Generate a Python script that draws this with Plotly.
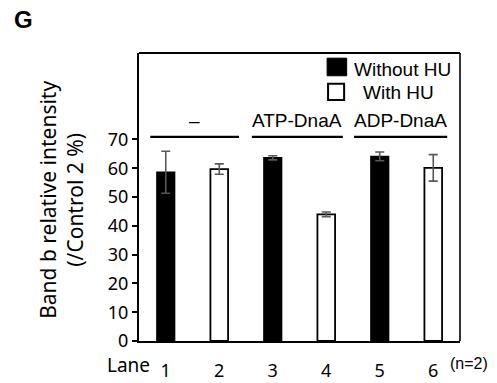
import plotly.graph_objects as go

# Band b relative intensity (% of Control 2), mean with error, n=2
lanes = ["1", "2", "3", "4", "5", "6"]
without_hu_lanes = ["1", "3", "5"]
without_hu_values = [58.6, 63.6, 64.1]
without_hu_errors = [7.3, 0.7, 1.5]
with_hu_lanes = ["2", "4", "6"]
with_hu_values = [59.7, 44.0, 60.1]
with_hu_errors = [1.8, 0.8, 4.6]

group_labels = ["\u2013", "ATP-DnaA", "ADP-DnaA"]
y_ticks = [0, 10, 20, 30, 40, 50, 60, 70]

tick_font = dict(family="Noto Sans", size=18, color="#000000")
arial = "Liberation Sans, Arial, sans-serif"
err_style = dict(type="data", color="#595959", thickness=1.6, width=4.5)

fig = go.Figure()
fig.add_trace(go.Bar(
    x=without_hu_lanes, y=without_hu_values, name="Without HU",
    marker=dict(color="#000000", line=dict(color="#000000", width=1.5)),
    width=0.33,
    error_y=dict(array=without_hu_errors, **err_style),
))
fig.add_trace(go.Bar(
    x=with_hu_lanes, y=with_hu_values, name="With HU",
    marker=dict(color="#ffffff", line=dict(color="#000000", width=1.8)),
    width=0.33,
    error_y=dict(array=with_hu_errors, **err_style),
))

# group brackets (lines) and their labels above the bars
group_spans = [(-0.29, 1.37), (1.61, 3.31), (3.52, 5.26)]
shapes = []
annotations = []
for label, (x0, x1) in zip(group_labels, group_spans):
    shapes.append(dict(type="line", xref="x", yref="y", x0=x0, x1=x1, y0=70.9, y1=70.9,
                       line=dict(color="#000000", width=2.2)))
    annotations.append(dict(xref="x", yref="y", x=(x0 + x1) / 2, y=76.6, text=label,
                            showarrow=False, font=dict(family=arial, size=19, color="#000000"),
                            xanchor="center", yanchor="middle"))

# frame: top and right edges
shapes.append(dict(type="line", xref="paper", yref="paper", x0=0, x1=1, y0=1, y1=1,
                   line=dict(color="#000000", width=2)))
shapes.append(dict(type="line", xref="paper", yref="paper", x0=1, x1=1, y0=0, y1=1,
                   line=dict(color="#000000", width=1.6)))

# legend keys
shapes.append(dict(type="rect", xref="paper", yref="paper", x0=0.586, x1=0.647, y0=0.921, y1=0.982,
                   fillcolor="#000000", line=dict(color="#000000", width=1)))
shapes.append(dict(type="rect", xref="paper", yref="paper", x0=0.589, x1=0.639, y0=0.837, y1=0.893,
                   fillcolor="#ffffff", line=dict(color="#000000", width=2)))
annotations.append(dict(xref="paper", yref="paper", x=0.664, y=0.943, text="Without HU",
                        showarrow=False, xanchor="left", yanchor="middle",
                        font=dict(family=arial, size=19, color="#000000")))
annotations.append(dict(xref="paper", yref="paper", x=0.692, y=0.863, text="With HU",
                        showarrow=False, xanchor="left", yanchor="middle",
                        font=dict(family=arial, size=19, color="#000000")))

# axis captions
annotations.append(dict(xref="paper", yref="paper", x=0.041, y=-0.082, text="Lane",
                        showarrow=False, xanchor="right", yanchor="middle",
                        font=dict(family="Noto Sans", size=19, color="#000000")))
annotations.append(dict(xref="paper", yref="paper", x=0.962, y=-0.077, text="(n=2)",
                        showarrow=False, xanchor="left", yanchor="middle",
                        font=dict(family=arial, size=16, color="#000000")))
annotations.append(dict(xref="paper", yref="paper", x=-0.24, y=0.49,
                        text="Band b relative intensity<br>(/Control 2 %)",
                        showarrow=False, textangle=-90, xanchor="center", yanchor="middle",
                        align="center", font=dict(family="Noto Sans", size=21, color="#000000")))
annotations.append(dict(xref="paper", yref="paper", x=-0.395, y=1.115, text="<b>G</b>",
                        showarrow=False, xanchor="left", yanchor="middle",
                        font=dict(family=arial, size=24, color="#000000")))

fig.update_layout(
    width=497, height=383,
    margin=dict(l=139, r=37, t=53, b=42),
    paper_bgcolor="#ffffff", plot_bgcolor="#ffffff",
    barmode="overlay", showlegend=False,
    shapes=shapes, annotations=annotations,
    xaxis=dict(type="category", categoryorder="array", categoryarray=lanes,
               range=[-0.5, 5.5], showgrid=False, zeroline=False, automargin=False,
               showline=True, linecolor="#000000", linewidth=2,
               ticks="", tickfont=tick_font, ticklabelstandoff=12),
    yaxis=dict(range=[0, 100], tickvals=y_ticks, showgrid=False, zeroline=False,
               automargin=False,
               showline=True, linecolor="#000000", linewidth=2,
               ticks="outside", ticklen=5, tickwidth=1.5, tickcolor="#000000",
               tickfont=tick_font, ticklabelstandoff=0),
)

fig.write_html("out.html")
